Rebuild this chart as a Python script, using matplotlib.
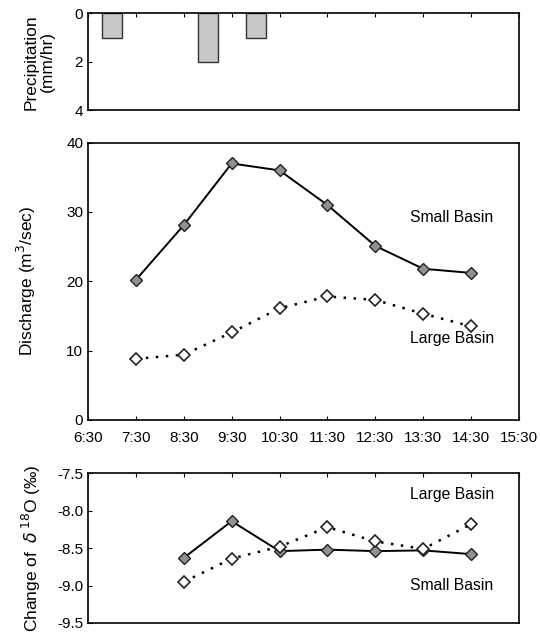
import matplotlib.pyplot as plt
import numpy as np

plt.rcParams['font.family'] = ['Liberation Sans', 'DejaVu Sans']

def hrs(t):
    h, m = t.split(':')
    return int(h) + int(m) / 60.0

# data
tick_labels = ['6:30', '7:30', '8:30', '9:30', '10:30', '11:30', '12:30', '13:30', '14:30', '15:30']
rain_times = ['7:00', '9:00', '10:00']
rain = [1, 2, 1]

q_times = ['7:30', '8:30', '9:30', '10:30', '11:30', '12:30', '13:30', '14:30']
q_small = [20.2, 28.1, 37.0, 36.0, 31.0, 25.1, 21.8, 21.2]
q_large = [8.8, 9.4, 12.6, 16.1, 17.8, 17.3, 15.3, 13.5]

d_times = ['8:30', '9:30', '10:30', '11:30', '12:30', '13:30', '14:30']
d_small = [-8.63, -8.14, -8.54, -8.52, -8.54, -8.53, -8.58]
d_large = [-8.95, -8.64, -8.48, -8.22, -8.41, -8.51, -8.18]

xt = [hrs(t) for t in tick_labels]
fs = 11

fig = plt.figure(figsize=(5.4, 6.37), dpi=100)
ax1 = fig.add_axes([0.163, 0.827, 0.798, 0.152])
ax2 = fig.add_axes([0.163, 0.341, 0.798, 0.435])
ax3 = fig.add_axes([0.163, 0.022, 0.798, 0.235])

for ax in (ax1, ax2, ax3):
    ax.set_xlim(xt[0], xt[-1])
    ax.set_xticks(xt)
    ax.tick_params(direction='in', length=3, labelsize=fs, width=0.8)
    for s in ax.spines.values():
        s.set_linewidth(1.2)

# precipitation
ax1.bar([hrs(t) for t in rain_times], rain, width=0.42, color='#c8c8c8',
        edgecolor='#333333', linewidth=1)
ax1.set_ylim(4, 0)
ax1.set_yticks([0, 2, 4])
ax1.xaxis.tick_top()
ax1.set_xticklabels([])
ax1.set_ylabel('Precipitation\n(mm/hr)', fontsize=12.5, labelpad=14, linespacing=1.1)

# discharge
ax2.plot([hrs(t) for t in q_times], q_small, '-', color='k', lw=1.4,
         marker='D', ms=6, mfc='#909090', mec='#222222', mew=1)
ax2.plot([hrs(t) for t in q_times], q_large, color='k', lw=1.8, ls=(0, (1, 3)),
         marker='D', ms=6, mfc='white', mec='#222222', mew=1.2)
ax2.set_ylim(0, 40)
ax2.set_yticks([0, 10, 20, 30, 40])
ax2.set_xticklabels(tick_labels)
ax2.tick_params(axis='x', pad=8)
ax2.set_ylabel('Discharge (m$^3$/sec)', fontsize=12.5, labelpad=20)
ax2.text(14.1, 29.2, 'Small Basin', fontsize=11.3, ha='center', va='center')
ax2.text(14.1, 11.8, 'Large Basin', fontsize=11.3, ha='center', va='center')

# delta 18O
ax3.plot([hrs(t) for t in d_times], d_small, '-', color='k', lw=1.4,
         marker='D', ms=6, mfc='#909090', mec='#222222', mew=1)
ax3.plot([hrs(t) for t in d_times], d_large, color='k', lw=1.8, ls=(0, (1, 3)),
         marker='D', ms=6, mfc='white', mec='#222222', mew=1.2)
ax3.set_ylim(-9.5, -7.5)
ax3.set_yticks([-7.5, -8.0, -8.5, -9.0, -9.5])
ax3.set_yticklabels(['-7.5', '-8.0', '-8.5', '-9.0', '-9.5'])
ax3.xaxis.tick_top()
ax3.set_xticklabels([])
ax3.set_ylabel('Change of  $\\delta\\,^{18}$O (‰)', fontsize=12.5, labelpad=10)
ax3.text(14.1, -7.79, 'Large Basin', fontsize=11.3, ha='center', va='center')
ax3.text(14.1, -9.0, 'Small Basin', fontsize=11.3, ha='center', va='center')

fig.savefig('out.png', dpi=100)
